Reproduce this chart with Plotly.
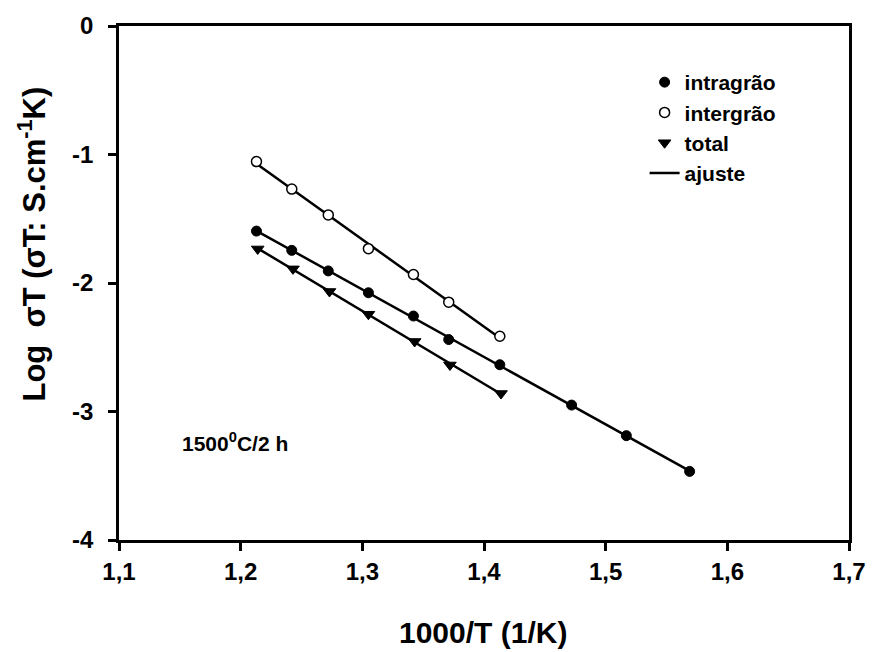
import numpy as np
import plotly.graph_objects as go

# ---- data ----
x_intra = [1.213, 1.242, 1.272, 1.305, 1.342, 1.371, 1.413, 1.472, 1.517, 1.569]
y_intra = [-1.596, -1.746, -1.906, -2.076, -2.257, -2.440, -2.636, -2.950, -3.188, -3.466]
x_inter = [1.213, 1.242, 1.272, 1.305, 1.342, 1.371, 1.413]
y_inter = [-1.055, -1.269, -1.470, -1.733, -1.934, -2.149, -2.414]
x_total = [1.214, 1.243, 1.273, 1.305, 1.343, 1.372, 1.414]
y_total = [-1.735, -1.890, -2.066, -2.243, -2.455, -2.638, -2.860]

x_ticks = [1.1, 1.2, 1.3, 1.4, 1.5, 1.6, 1.7]
x_ticktext = ["1,1", "1,2", "1,3", "1,4", "1,5", "1,6", "1,7"]
y_ticks = [0, -1, -2, -3, -4]
y_ticktext = ["0", "-1", "-2", "-3", "-4"]

x_title = "1000/T (1/K)"
y_title = "Log  σT (σT: S.cm<sup>-1</sup>K)"
note = "1500<sup>0</sup>C/2 h"

FONT = "Liberation Sans, Arial, sans-serif"
BLACK = "#000000"

fig = go.Figure()

# fitted lines (ajuste)
series = [(x_intra, y_intra), (x_inter, y_inter), (x_total, y_total)]
for i, (xs, ys) in enumerate(series):
    a, b = np.polyfit(xs, ys, 1)
    xf = np.array([min(xs), max(xs)])
    fig.add_trace(go.Scatter(
        x=xf, y=a * xf + b, mode="lines",
        line=dict(color=BLACK, width=2.5),
        name="ajuste", showlegend=(i == 0), legendrank=4,
        hoverinfo="skip"))

fig.add_trace(go.Scatter(
    x=x_intra, y=y_intra, mode="markers", name="intragrão", legendrank=1,
    marker=dict(symbol="circle", size=10, color=BLACK,
                line=dict(color=BLACK, width=1))))
fig.add_trace(go.Scatter(
    x=x_inter, y=y_inter, mode="markers", name="intergrão", legendrank=2,
    marker=dict(symbol="circle", size=10, color="white",
                line=dict(color=BLACK, width=1.5))))
fig.add_trace(go.Scatter(
    x=x_total, y=y_total, mode="markers", name="total", legendrank=3,
    marker=dict(symbol="triangle-down", size=11, color=BLACK,
                line=dict(color=BLACK, width=1))))

fig.add_annotation(
    x=0.159, y=0.19, xref="paper", yref="paper",
    text=note, showarrow=False, xanchor="center", yanchor="middle",
    font=dict(family=FONT, size=21, color=BLACK, weight="bold"))

# axis titles
fig.add_annotation(
    x=0.499, y=-0.18, xref="paper", yref="paper",
    text=x_title, showarrow=False, xanchor="center", yanchor="middle",
    font=dict(family=FONT, size=30, color=BLACK, weight="bold"))
fig.add_annotation(
    x=-0.1197, y=0.576, xref="paper", yref="paper",
    text=y_title, showarrow=False, xanchor="center", yanchor="middle",
    textangle=-90,
    font=dict(family=FONT, size=31, color=BLACK, weight="bold"))

fig.update_layout(
    width=878, height=652,
    margin=dict(l=119, r=24, t=23, b=112),
    paper_bgcolor="white", plot_bgcolor="white",
    font=dict(family=FONT, color=BLACK, weight="bold"),
    showlegend=True,
    legend=dict(x=0.72, y=0.93, xanchor="left", yanchor="top",
                bgcolor="rgba(0,0,0,0)", borderwidth=0,
                font=dict(family=FONT, size=21, color=BLACK, weight="bold"),
                itemwidth=30, tracegroupgap=0),
)

fig.update_xaxes(
    range=[1.1, 1.7], tickvals=x_ticks, ticktext=x_ticktext,
    showgrid=False, zeroline=False,
    showline=True, linecolor=BLACK, linewidth=2.5, mirror=True,
    ticks="outside", ticklen=8, tickwidth=2.5, tickcolor=BLACK,
    tickfont=dict(family=FONT, size=24, color=BLACK, weight="bold"))

fig.update_yaxes(
    range=[-4, 0], tickvals=y_ticks, ticktext=y_ticktext,
    showgrid=False, zeroline=False,
    showline=True, linecolor=BLACK, linewidth=2.5, mirror=True,
    ticks="outside", ticklen=8, tickwidth=2.5, tickcolor=BLACK,
    ticklabelstandoff=10,
    tickfont=dict(family=FONT, size=24, color=BLACK, weight="bold"))

fig.write_html("out.html")
